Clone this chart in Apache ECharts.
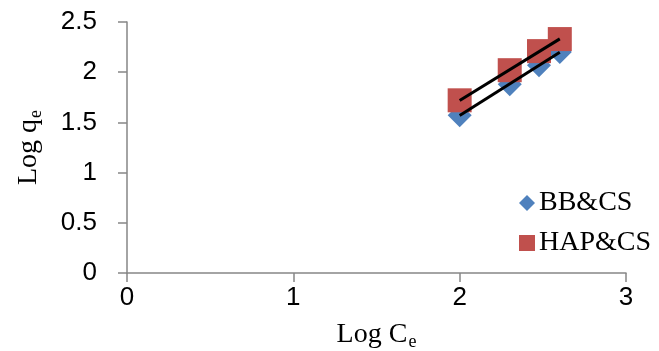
<!DOCTYPE html>
<html>
<head>
<meta charset="utf-8">
<script src="https://cdn.jsdelivr.net/npm/echarts@6/dist/echarts.min.js"></script>
<style>
  html, body { margin: 0; padding: 0; background: #fff; }
  #chart { width: 659px; height: 351px; }
</style>
</head>
<body>
<div id="chart"></div>
<script>
// Freundlich isotherm: log Ce vs log qe for the two adsorbents
const logCe = [2.0, 2.301, 2.477, 2.602];
const bbcs = [1.57, 1.88, 2.07, 2.20];
const hapcs = [1.72, 2.02, 2.21, 2.33];
const seriesNames = ['BB&CS', 'HAP&CS'];
const xTicks = [0, 1, 2, 3];
const yTicks = [0, 0.5, 1, 1.5, 2, 2.5];

// least-squares linear trend line spanning the measured x range
function trend(xs, ys) {
  const n = xs.length;
  const mx = xs.reduce((a, b) => a + b, 0) / n;
  const my = ys.reduce((a, b) => a + b, 0) / n;
  let sxy = 0, sxx = 0;
  for (let i = 0; i < n; i++) {
    sxy += (xs[i] - mx) * (ys[i] - my);
    sxx += (xs[i] - mx) * (xs[i] - mx);
  }
  const k = sxy / sxx, b = my - k * mx;
  const x0 = Math.min(...xs), x1 = Math.max(...xs);
  return [[x0, k * x0 + b], [x1, k * x1 + b]];
}

const pairs = ys => logCe.map((x, i) => [x, ys[i]]);
const axisGray = '#868686';
const serif = '"Liberation Serif", "Times New Roman", serif';
const sans = '"Liberation Sans", Arial, sans-serif';

const chart = echarts.init(document.getElementById('chart'));
chart.setOption({
  animation: false,
  grid: { left: 127, right: 33, top: 22, bottom: 78, outerBoundsMode: 'none', containLabel: false },
  legend: {
    orient: 'vertical',
    left: 514,
    top: 184,
    itemWidth: 16,
    itemHeight: 16,
    itemGap: 12,
    textStyle: { fontFamily: serif, fontSize: 28, color: '#000', padding: [0, 0, 0, -1] },
    data: [
      { name: seriesNames[0], icon: 'diamond' },
      { name: seriesNames[1], icon: 'rect' }
    ]
  },
  xAxis: {
    type: 'value',
    min: xTicks[0],
    max: xTicks[xTicks.length - 1],
    interval: 1,
    splitLine: { show: false },
    axisLine: { onZero: false, lineStyle: { color: axisGray, width: 1.5 } },
    axisTick: { show: true, length: 9, lineStyle: { color: axisGray, width: 1.5 } },
    axisLabel: { fontFamily: sans, fontSize: 26, color: '#000', margin: 12 },
    name: 'Log C{sub|e}',
    nameLocation: 'middle',
    nameGap: 46,
    nameTextStyle: {
      fontFamily: serif, fontSize: 28, color: '#000',
      rich: {
        sub: { fontFamily: serif, fontSize: 18, color: '#000', padding: [14, 0, 0, 1] }
      }
    }
  },
  yAxis: {
    type: 'value',
    min: yTicks[0],
    max: yTicks[yTicks.length - 1],
    interval: 0.5,
    splitLine: { show: false },
    axisLine: { show: true, onZero: false, lineStyle: { color: axisGray, width: 1.5 } },
    axisTick: { show: true, length: 9, lineStyle: { color: axisGray, width: 1.5 } },
    axisLabel: { fontFamily: sans, fontSize: 26, color: '#000', margin: 30 },
    name: 'Log q{sub|e}',
    nameLocation: 'middle',
    nameRotate: 90,
    nameGap: 82,
    nameTextStyle: {
      fontFamily: serif, fontSize: 28, color: '#000',
      rich: {
        sub: { fontFamily: serif, fontSize: 18, color: '#000', padding: [14, 0, 0, 1] }
      }
    }
  },
  series: [
    {
      name: seriesNames[0],
      type: 'scatter',
      symbol: 'diamond',
      symbolSize: 24,
      itemStyle: { color: '#4F81BD', opacity: 1 },
      data: pairs(bbcs),
      z: 2
    },
    {
      name: seriesNames[1],
      type: 'scatter',
      symbol: 'rect',
      symbolSize: 24,
      itemStyle: { color: '#C0504D', opacity: 1 },
      data: pairs(hapcs),
      z: 3
    },
    {
      type: 'line',
      data: trend(logCe, bbcs),
      symbol: 'none',
      lineStyle: { color: '#000', width: 3 },
      z: 4
    },
    {
      type: 'line',
      data: trend(logCe, hapcs),
      symbol: 'none',
      lineStyle: { color: '#000', width: 3 },
      z: 4
    }
  ]
});
</script>
</body>
</html>
